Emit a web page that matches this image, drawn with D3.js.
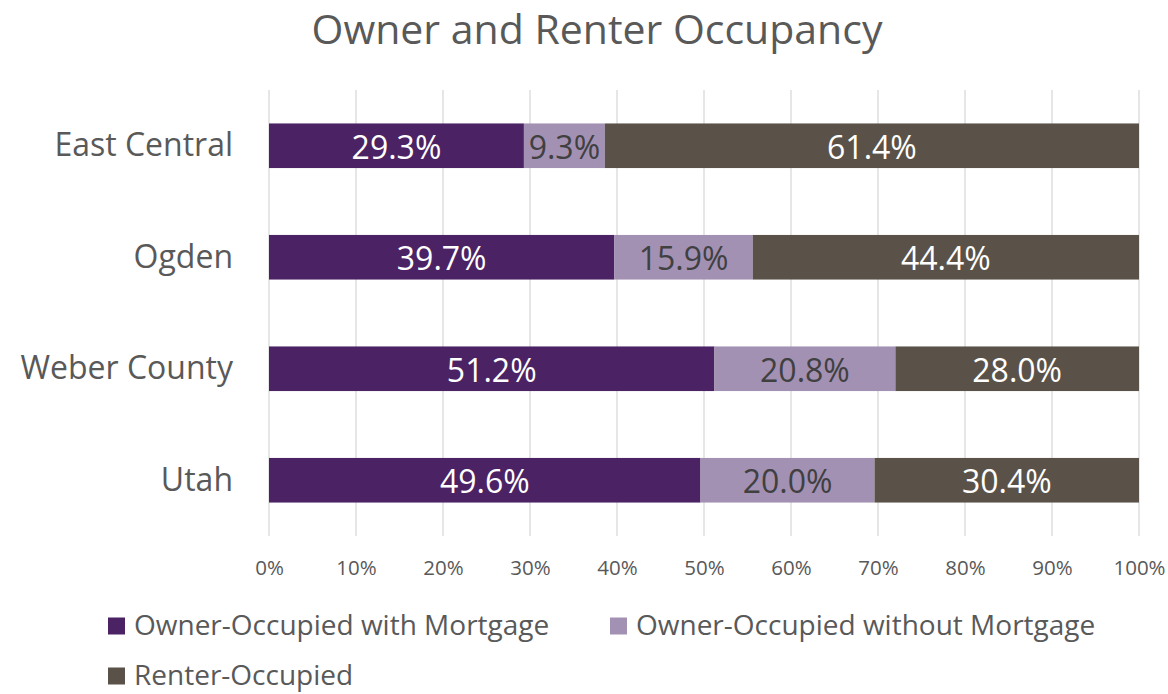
<!DOCTYPE html>
<html>
<head>
<meta charset="utf-8">
<script src="https://cdn.jsdelivr.net/npm/d3@7"></script>
<style>
  body { margin: 0; background: #fff; }
  text { font-family: "Open Sans", sans-serif; }
</style>
</head>
<body>
<script>
const width = 1168, height = 694;

// data
const categories = ["East Central", "Ogden", "Weber County", "Utah"];
const withMortgage = [29.3, 39.7, 51.2, 49.6];
const withoutMortgage = [9.3, 15.9, 20.8, 20.0];
const renter = [61.4, 44.4, 28.0, 30.4];
const seriesNames = ["Owner-Occupied with Mortgage", "Owner-Occupied without Mortgage", "Renter-Occupied"];
const xTicks = [0, 10, 20, 30, 40, 50, 60, 70, 80, 90, 100];

const colors = ["#4b2264", "#a391b4", "#5a5249"];
const labelColors = ["#ffffff", "#404040", "#ffffff"];

const svg = d3.select("body").append("svg")
    .attr("width", width)
    .attr("height", height);

const x = d3.scaleLinear().domain([0, 100]).range([269, 1139]);
const y = d3.scaleBand().domain(categories).range([90, 536]).paddingInner(0.6).paddingOuter(0.3);

// title
svg.append("text")
    .attr("x", 597).attr("y", 44)
    .attr("text-anchor", "middle")
    .attr("fill", "#595959")
    .style("font-size", "41px")
    .text("Owner and Renter Occupancy");

// gridlines
svg.append("g")
    .selectAll("line")
    .data(xTicks)
    .join("line")
    .attr("x1", d => x(d)).attr("x2", d => x(d))
    .attr("y1", 90).attr("y2", 536)
    .attr("stroke", "#d9d9d9")
    .attr("stroke-width", 1.3);

// x axis labels
const xAxis = svg.append("g")
    .attr("transform", "translate(0,575)")
    .call(d3.axisBottom(x).tickValues(xTicks).tickFormat(d => d + "%").tickSize(0).tickPadding(0));
xAxis.select(".domain").remove();
xAxis.selectAll("text")
    .attr("dy", 0)
    .attr("fill", "#595959")
    .style("font-family", "'Open Sans', sans-serif")
    .style("font-size", "20.5px");

// category labels
const yAxis = svg.append("g")
    .attr("transform", "translate(269,0)")
    .call(d3.axisLeft(y).tickSize(0).tickPadding(36));
yAxis.select(".domain").remove();
yAxis.selectAll("text")
    .attr("dy", "0.33em")
    .attr("fill", "#595959")
    .style("font-family", "'Open Sans', sans-serif")
    .style("font-size", "32px");

// stacked data
const rows = categories.map((c, i) => ({
    cat: c,
    vals: [withMortgage[i], withoutMortgage[i], renter[i]]
}));
const segs = [];
rows.forEach(r => {
    let acc = 0;
    r.vals.forEach((v, k) => {
        segs.push({ cat: r.cat, k: k, v: v, x0: acc, x1: acc + v });
        acc += v;
    });
});

svg.append("g")
    .selectAll("rect")
    .data(segs)
    .join("rect")
    .attr("x", d => x(d.x0))
    .attr("width", d => x(d.x1) - x(d.x0))
    .attr("y", d => y(d.cat))
    .attr("height", y.bandwidth())
    .attr("fill", d => colors[d.k]);

svg.append("g")
    .selectAll("text")
    .data(segs)
    .join("text")
    .attr("x", d => (x(d.x0) + x(d.x1)) / 2)
    .attr("y", d => y(d.cat) + y.bandwidth() / 2)
    .attr("dy", "0.4em")
    .attr("text-anchor", "middle")
    .attr("fill", d => labelColors[d.k])
    .style("font-size", "32px")
    .text(d => d.v.toFixed(1) + "%");

// legend
const legendPos = [[108, 626], [610, 626], [108, 676]];
const lg = svg.append("g")
    .selectAll("g")
    .data(seriesNames)
    .join("g")
    .attr("transform", (d, i) => "translate(" + legendPos[i][0] + "," + legendPos[i][1] + ")");
lg.append("rect")
    .attr("x", 0).attr("y", -8.5)
    .attr("width", 17).attr("height", 17)
    .attr("fill", (d, i) => colors[i]);
lg.append("text")
    .attr("x", 26).attr("y", 8)
    .attr("dy", "0.05em")
    .attr("fill", "#595959")
    .style("font-size", "28px")
    .text(d => d);
</script>
</body>
</html>
